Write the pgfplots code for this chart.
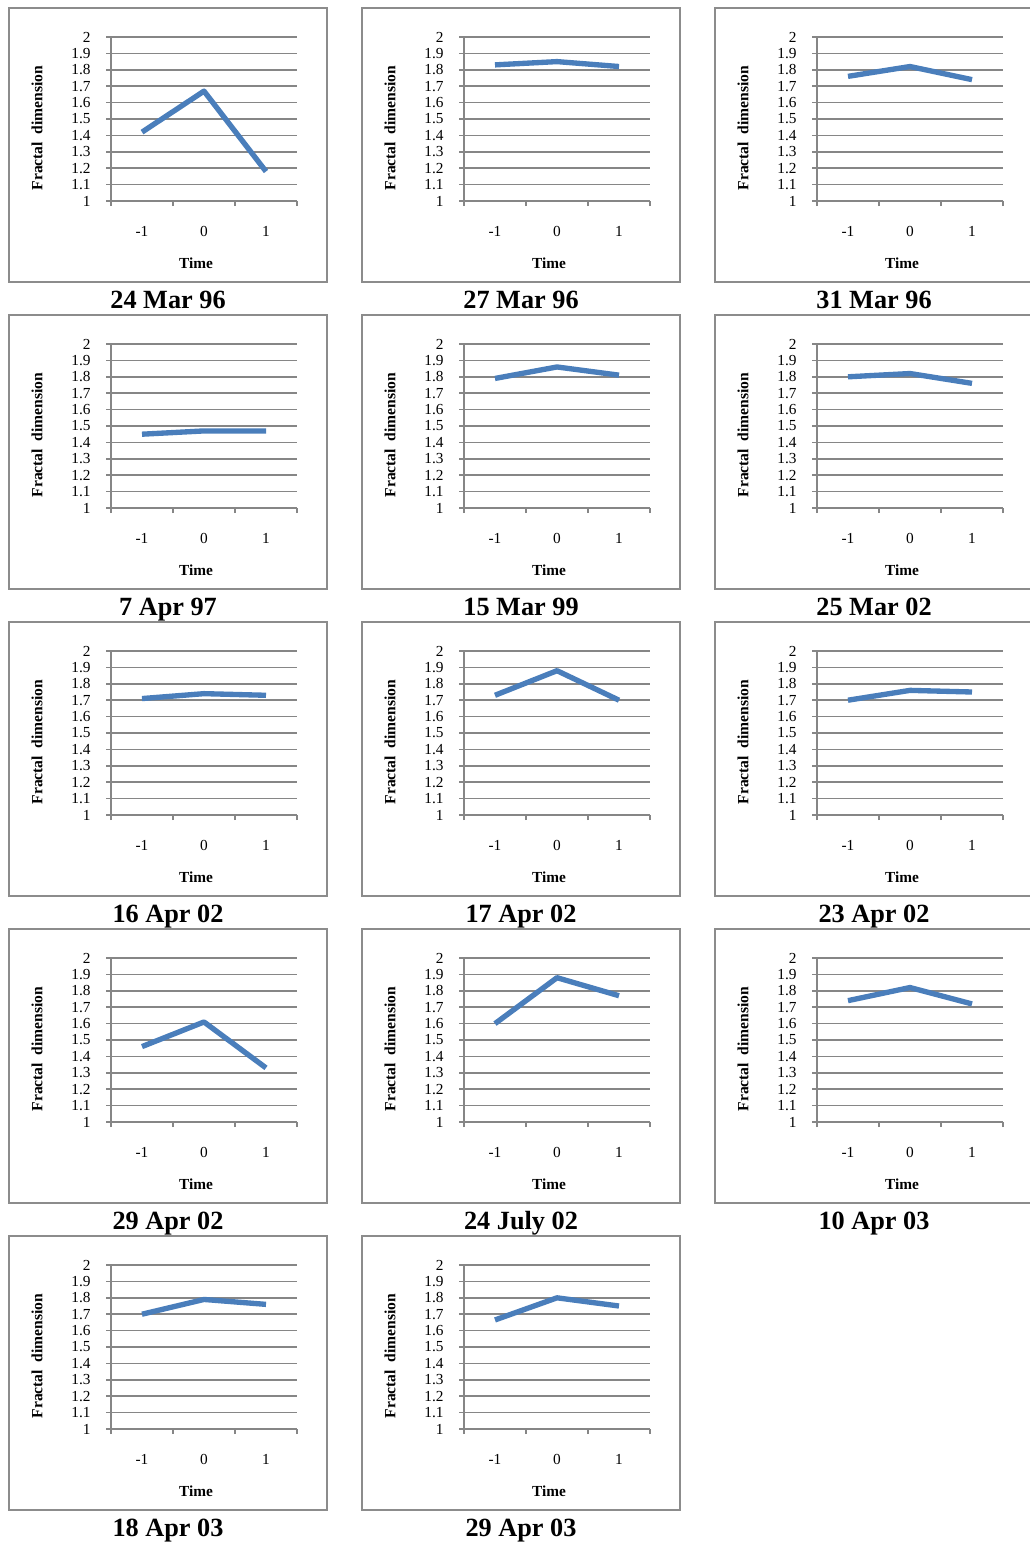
\documentclass[border=0pt]{standalone}
\usepackage{pgfplots}
\pgfplotsset{compat=1.18}
\usepackage{fontspec}
\setmainfont{Liberation Serif}
\definecolor{gridc}{RGB}{134,134,134}
\definecolor{boxc}{RGB}{140,140,140}
\definecolor{linec}{RGB}{74,126,187}
\pgfplotsset{panel/.style={
  scale only axis, width=139.5pt, height=123pt,
  anchor=south west,
  xmin=0, xmax=3, ymin=1, ymax=2,
  axis x line=bottom, axis y line=left,
  axis line style={-, gridc, line width=1.2pt},
  xtick={0,1,2,3}, xticklabels={},
  extra x ticks={0.5,1.5,2.5}, extra x tick labels={-1,0,1},
  extra x tick style={major tick length=0pt, xticklabel style={yshift=-15.5pt}},
  ytick={1,1.1,1.2,1.3,1.4,1.5,1.6,1.7,1.8,1.9,2},
  yticklabels={1,1.1,1.2,1.3,1.4,1.5,1.6,1.7,1.8,1.9,2},
  tick align=outside, major tick length=3.75pt,
  tick style={gridc, line width=1.2pt},
  ymajorgrids, grid style={gridc, line width=1.2pt},
  /pgf/number format/assume math mode=true,
  ticklabel style={font=\fontsize{11.5}{12}\selectfont},
  yticklabel style={xshift=-8pt},
  clip=false,
}}
\newcommand{\panel}[6]{%
  \pgfmathsetmacro{\bx}{(9+353*#1)*0.75}%
  \pgfmathsetmacro{\by}{-(8+307*#2)*0.75}%
  \draw[boxc, line width=1.5pt] (\bx pt,\by pt) rectangle ++(238.5pt,-205.5pt);
  \begin{axis}[panel, at={(\bx pt+76.5pt,\by pt-144.75pt)}]
    \addplot[linec, line width=4pt, line join=round] coordinates {(0.5,#4) (1.5,#5) (2.5,#6)};
  \end{axis}
  \node[font=\bfseries\fontsize{11.5}{12}\selectfont] at (\bx pt+140.25pt,\by pt-191.25pt) {Time};
  \node[rotate=90, font=\bfseries\fontsize{11.7}{12}\selectfont] at (\bx pt+21pt,\by pt-90pt) {Fractal\ \ dimension};
  \node[anchor=base, inner sep=0pt, font=\bfseries\fontsize{19.7}{20}\selectfont] at (\bx pt+119.25pt,\by pt-225pt) {#3};
}
\begin{document}
\begin{tikzpicture}
\useasboundingbox (0,0) rectangle (772.5pt,-1156.5pt);
\panel{0}{0}{24 Mar 96}{1.42}{1.67}{1.18}
\panel{1}{0}{27 Mar 96}{1.83}{1.85}{1.82}
\panel{2}{0}{31 Mar 96}{1.76}{1.82}{1.74}
\panel{0}{1}{7 Apr 97}{1.45}{1.47}{1.47}
\panel{1}{1}{15 Mar 99}{1.79}{1.86}{1.81}
\panel{2}{1}{25 Mar 02}{1.80}{1.82}{1.76}
\panel{0}{2}{16 Apr 02}{1.71}{1.74}{1.73}
\panel{1}{2}{17 Apr 02}{1.73}{1.88}{1.70}
\panel{2}{2}{23 Apr 02}{1.70}{1.76}{1.75}
\panel{0}{3}{29 Apr 02}{1.46}{1.61}{1.33}
\panel{1}{3}{24 July 02}{1.60}{1.88}{1.77}
\panel{2}{3}{10 Apr 03}{1.74}{1.82}{1.72}
\panel{0}{4}{18 Apr 03}{1.70}{1.79}{1.76}
\panel{1}{4}{29 Apr 03}{1.665}{1.80}{1.75}
\end{tikzpicture}
\end{document}
